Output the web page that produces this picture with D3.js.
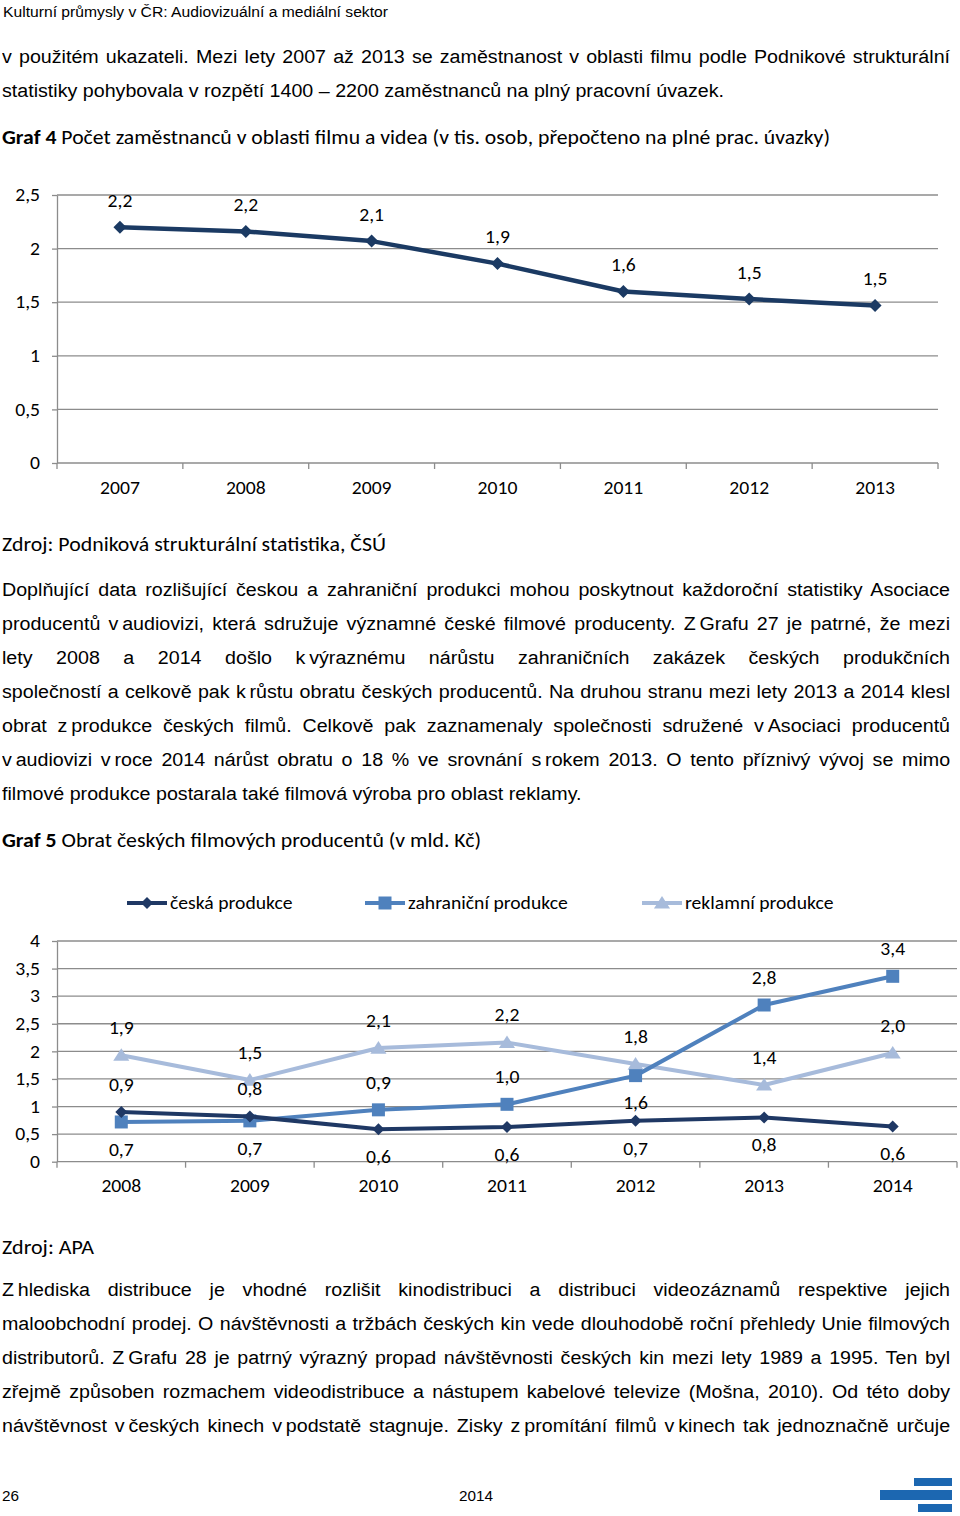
<!DOCTYPE html>
<html>
<head>
<meta charset="utf-8">
<script src="https://cdnjs.cloudflare.com/ajax/libs/d3/7.8.5/d3.min.js"></script>
<style>
  html, body { margin: 0; padding: 0; background: #fff; }
  body { width: 960px; height: 1516px; position: relative; overflow: hidden; }
  #page { position: absolute; left: 0; top: 0; }
  .ln { position: absolute; left: 2px; width: 868.5px; font-family: "Liberation Sans", Arimo, Arial, sans-serif;
        font-size: 18px; line-height: 20px; color: #000; white-space: normal;
        transform: scaleX(1.0916); transform-origin: 0 0; }
  .just { text-align: justify; text-align-last: justify; }
  .left { text-align: left; }
  .nb { display: inline-block; word-spacing: -1.5px; }
  svg text { font-family: Carlito, Calibri, Lato, sans-serif; }
</style>
</head>
<body>
<svg id="page" width="960" height="1516"></svg>
<div id="textlayer"></div>
<script>
// ---------------- DATA ----------------
const years1 = ["2007", "2008", "2009", "2010", "2011", "2012", "2013"];
const employees = [2.2, 2.16, 2.07, 1.86, 1.6, 1.53, 1.47];
const yTicks1 = [0, 0.5, 1, 1.5, 2, 2.5];

const years2 = ["2008", "2009", "2010", "2011", "2012", "2013", "2014"];
const czechProd = [0.9, 0.82, 0.59, 0.63, 0.74, 0.80, 0.64];
const foreignProd = [0.72, 0.74, 0.94, 1.04, 1.56, 2.84, 3.36];
const advertProd = [1.93, 1.48, 2.06, 2.16, 1.77, 1.39, 1.97];
const yTicks2 = [0, 0.5, 1, 1.5, 2, 2.5, 3, 3.5, 4];
const seriesNames2 = ["česká produkce", "zahraniční produkce", "reklamní produkce"];
// data label placement relative to point
const czechLabelPos = ["above", "above", "below", "below", "below", "below", "below"];
const foreignLabelPos = ["below", "below", "above", "above", "below", "above", "above"];
const advertLabelPos = ["above", "above", "above", "above", "above", "above", "above"];

// ---------------- TEXT ----------------
const headerText = "Kulturní průmysly v ČR: Audiovizuální a mediální sektor";
const para1 = [
  "v použitém ukazateli. Mezi lety 2007 až 2013 se zaměstnanost v oblasti filmu podle Podnikové strukturální",
  "statistiky pohybovala v rozpětí 1400 – 2200 zaměstnanců na plný pracovní úvazek."
];
const graf4Title = ["Graf 4", " Počet zaměstnanců v oblasti filmu a videa (v tis. osob, přepočteno na plné prac. úvazky)"];
const source1 = "Zdroj: Podniková strukturální statistika, ČSÚ";
const para2 = [
  "Doplňující data rozlišující českou a zahraniční produkci mohou poskytnout každoroční statistiky Asociace",
  "producentů v audiovizi, která sdružuje významné české filmové producenty. Z Grafu 27 je patrné, že mezi",
  "lety 2008 a 2014 došlo k výraznému nárůstu zahraničních zakázek českých produkčních",
  "společností a celkově pak k růstu obratu českých producentů. Na druhou stranu mezi lety 2013 a 2014 klesl",
  "obrat z produkce českých filmů. Celkově pak zaznamenaly společnosti sdružené v Asociaci producentů",
  "v audiovizi v roce 2014 nárůst obratu o 18 % ve srovnání s rokem 2013. O tento příznivý vývoj se mimo",
  "filmové produkce postarala také filmová výroba pro oblast reklamy."
];
const graf5Title = ["Graf 5", " Obrat českých filmových producentů (v mld. Kč)"];
const source2 = "Zdroj: APA";
const para3 = [
  "Z hlediska distribuce je vhodné rozlišit kinodistribuci a distribuci videozáznamů respektive jejich",
  "maloobchodní prodej. O návštěvnosti a tržbách českých kin vede dlouhodobě roční přehledy Unie filmových",
  "distributorů. Z Grafu 28 je patrný výrazný propad návštěvnosti českých kin mezi lety 1989 a 1995. Ten byl",
  "zřejmě způsoben rozmachem videodistribuce a nástupem kabelové televize (Mošna, 2010). Od této doby",
  "návštěvnost v českých kinech v podstatě stagnuje. Zisky z promítání filmů v kinech tak jednoznačně určuje"
];
const pageNum = "26";
const footerYear = "2014";

// ---------------- BODY TEXT ----------------
const SX = 1.0916; // horizontal stretch of the reference rendering
const tl = d3.select("#textlayer");
function esc(s) { return s.replace(/&/g, "&amp;").replace(/</g, "&lt;"); }
function bindPreps(s) {
  return esc(s).replace(/(^|\s)([vVkKzZsS]) (\S+)/g, (m, a, p, w) => `${a}<span class="nb">${p}&nbsp;${w}</span>`);
}
function paragraph(lines, firstBaseline, lastJustified, bind) {
  lines.forEach((t, i) => {
    const isLast = i === lines.length - 1;
    tl.append("div")
      .attr("class", "ln " + ((isLast && !lastJustified) ? "left" : "just"))
      .style("top", (firstBaseline + i * 34 - 16.2) + "px")
      .html(bind ? bindPreps(t) : esc(t));
  });
}
paragraph(para1, 63.5, false, false);
paragraph(para2, 596, false, true);
paragraph(para3, 1296, true, true);

const svg = d3.select("#page");
const arial = "'Liberation Sans', Arimo, Arial, sans-serif";

// header and footer
svg.append("text").attr("x", 3).attr("y", 16.7)
  .attr("textLength", 385).attr("lengthAdjust", "spacingAndGlyphs")
  .style("font-family", arial).style("font-size", "14px").attr("fill", "#000").text(headerText);
svg.append("text").attr("transform", `translate(2,1501) scale(${SX},1)`)
  .style("font-family", arial).style("font-size", "14px").text(pageNum);
svg.append("text").attr("transform", `translate(476,1501) scale(${SX},1)`).attr("text-anchor", "middle")
  .style("font-family", arial).style("font-size", "14px").text(footerYear);
const logo = svg.append("g").attr("fill", "#1c67b1");
logo.append("rect").attr("x", 914).attr("y", 1478).attr("width", 38).attr("height", 8);
logo.append("rect").attr("x", 880).attr("y", 1490).attr("width", 72).attr("height", 10);
logo.append("rect").attr("x", 918).attr("y", 1504).attr("width", 34).attr("height", 8);

// captions (Calibri)
function caption(parts, baseline, width) {
  const t = svg.append("text").attr("x", 2).attr("y", baseline)
    .attr("textLength", width).attr("lengthAdjust", "spacingAndGlyphs")
    .style("font-size", "20.5px").attr("fill", "#000");
  if (Array.isArray(parts)) {
    t.append("tspan").style("font-weight", "bold").text(parts[0]);
    t.append("tspan").text(parts[1]);
  } else t.text(parts);
}
caption(graf4Title, 144, 828);
caption(source1, 551, 384);
caption(graf5Title, 847, 479);
caption(source2, 1254, 92);

const fmt = v => v.toFixed(1).replace(".", ",");
const fmtTick = v => String(v).replace(".", ",");
const gridColor = "#8c8c8c";
const labelFont = "18px";
const HALF = 5.7; // half digit height for vertical centring

function stretch(sel) {
  sel.each(function () {
    const t = d3.select(this);
    const x = +t.attr("x") || 0, y = +t.attr("y") || 0;
    t.attr("x", 0).attr("y", 0).attr("transform", `translate(${x},${y}) scale(${SX},1)`);
  });
}

const diamond = s => `M0,${-s}L${s},0L0,${s}L${-s},0Z`;
const square = s => `M${-s},${-s}H${s}V${s}H${-s}Z`;
const triangle = s => `M0,${-s}L${s * 1.15},${s * 0.8}L${-s * 1.15},${s * 0.8}Z`;

function drawFrame(g, x, y, ticks, xDomain, tickLen, xCenter) {
  const [x0, x1] = x.range();
  g.append("g").selectAll("line").data(ticks).join("line")
    .attr("x1", x0).attr("x2", x1)
    .attr("y1", d => y(d)).attr("y2", d => y(d))
    .attr("stroke", gridColor).attr("stroke-width", 1.3);
  const ya = g.append("g").attr("transform", `translate(${x0},0)`)
    .call(d3.axisLeft(y).tickValues(ticks).tickFormat(fmtTick).tickSizeInner(5).tickSizeOuter(0).tickPadding(12));
  ya.select(".domain").attr("stroke", gridColor).attr("stroke-width", 1.3);
  ya.selectAll(".tick line").attr("stroke", gridColor).attr("stroke-width", 1.3);
  ya.selectAll("text").style("font-size", labelFont).style("font-family", "Carlito, Calibri, sans-serif")
    .attr("fill", "#000").attr("dy", null).attr("y", HALF);
  stretch(ya.selectAll("text"));
  const bounds = xDomain.map(d => x(d)).concat([x1]);
  g.append("g").selectAll("line").data(bounds).join("line")
    .attr("x1", d => d).attr("x2", d => d)
    .attr("y1", y(0)).attr("y2", y(0) + tickLen)
    .attr("stroke", gridColor).attr("stroke-width", 1.3);
  const xa = g.append("g").attr("transform", `translate(0,${y(0)})`)
    .call(d3.axisBottom(x).tickSize(0).tickPadding(xCenter));
  xa.select(".domain").remove();
  xa.selectAll("text").style("font-size", labelFont).style("font-family", "Carlito, Calibri, sans-serif")
    .attr("fill", "#000").attr("dy", null).attr("y", xCenter + HALF);
  stretch(xa.selectAll("text"));
}

// ---------------- CHART 1 ----------------
{
  const g = svg.append("g");
  const x = d3.scaleBand().domain(years1).range([57, 938]);
  const y = d3.scaleLinear().domain([0, 2.5]).range([463, 195]);
  drawFrame(g, x, y, yTicks1, years1, 6, 25);
  const cx = d => x(d) + x.bandwidth() / 2;
  const pts = years1.map((yr, i) => ({ yr, v: employees[i] }));
  const color = "#1b3a63";
  g.append("path").datum(pts)
    .attr("d", d3.line().x(d => cx(d.yr)).y(d => y(d.v)))
    .attr("fill", "none").attr("stroke", color).attr("stroke-width", 4.5).attr("stroke-linejoin", "round");
  g.append("g").selectAll("path").data(pts).join("path")
    .attr("transform", d => `translate(${cx(d.yr)},${y(d.v)})`)
    .attr("d", diamond(6.5)).attr("fill", color);
  g.append("g").selectAll("text").data(pts).join("text")
    .attr("x", d => cx(d.yr)).attr("y", d => y(d.v) - 26 + HALF)
    .attr("text-anchor", "middle").style("font-size", labelFont).text(d => fmt(d.v))
    .call(stretch);
}

// ---------------- CHART 2 ----------------
{
  const g = svg.append("g");
  const x = d3.scaleBand().domain(years2).range([57, 957]);
  const y = d3.scaleLinear().domain([0, 4]).range([1161.7, 941]);
  drawFrame(g, x, y, yTicks2, years2, 6, 24.3);
  const cx = d => x(d) + x.bandwidth() / 2;
  const series = [
    { name: seriesNames2[0], vals: czechProd, pos: czechLabelPos, color: "#1f3864", marker: diamond(6), lw: 4 },
    { name: seriesNames2[1], vals: foreignProd, pos: foreignLabelPos, color: "#4f81bd", marker: square(6.5), lw: 4 },
    { name: seriesNames2[2], vals: advertProd, pos: advertLabelPos, color: "#a7bbdb", marker: triangle(7), lw: 4 }
  ];
  [series[2], series[1], series[0]].forEach(s => {
    const pts = years2.map((yr, i) => ({ yr, v: s.vals[i], pos: s.pos[i] }));
    g.append("path").datum(pts)
      .attr("d", d3.line().x(d => cx(d.yr)).y(d => y(d.v)))
      .attr("fill", "none").attr("stroke", s.color).attr("stroke-width", s.lw).attr("stroke-linejoin", "round");
    g.append("g").selectAll("path").data(pts).join("path")
      .attr("transform", d => `translate(${cx(d.yr)},${y(d.v)})`)
      .attr("d", s.marker).attr("fill", s.color);
    s.pts = pts;
  });
  series.forEach(s => {
    g.append("g").selectAll("text").data(s.pts).join("text")
      .attr("x", d => cx(d.yr))
      .attr("y", d => y(d.v) + (d.pos === "above" ? -27 : 28) + HALF)
      .attr("text-anchor", "middle").style("font-size", labelFont).text(d => fmt(d.v))
      .call(stretch);
  });
  const legX = [127, 365, 642];
  const leg = g.append("g");
  series.forEach((s, i) => {
    const lg = leg.append("g").attr("transform", `translate(${legX[i]},903)`);
    lg.append("line").attr("x1", 0).attr("x2", 40).attr("stroke", s.color).attr("stroke-width", 4);
    lg.append("path").attr("transform", "translate(20,0)").attr("d", s.marker).attr("fill", s.color);
    lg.append("text").attr("x", 43).attr("y", 6).style("font-size", labelFont).text(s.name).call(stretch);
  });
}
</script>
</body>
</html>
